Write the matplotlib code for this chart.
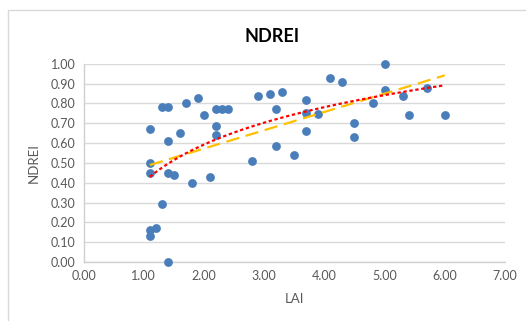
import matplotlib
matplotlib.use("Agg")
import matplotlib.pyplot as plt
from matplotlib.patches import Rectangle
import numpy as np

plt.rcParams["font.family"] = ["Lato", "DejaVu Sans"]

# LAI vs NDREI samples
lai = [1.1, 1.1, 1.1, 1.1, 1.1, 1.2, 1.3, 1.3, 1.4, 1.4, 1.4, 1.5, 1.4,
       1.6, 1.7, 1.8, 1.9, 2.0, 2.1, 2.2, 2.2, 2.2, 2.3, 2.4, 2.8, 2.9,
       3.1, 3.2, 3.2, 3.3, 3.5, 3.7, 3.7, 3.7, 3.9, 4.1, 4.3, 4.5, 4.5,
       4.8, 5.0, 5.0, 5.3, 5.4, 5.7, 6.0]
ndrei = [0.67, 0.50, 0.45, 0.16, 0.13, 0.17, 0.29, 0.78, 0.78, 0.61, 0.45, 0.44, 0.00,
         0.65, 0.80, 0.40, 0.83, 0.74, 0.43, 0.685, 0.64, 0.77, 0.77, 0.77, 0.51, 0.84,
         0.85, 0.77, 0.585, 0.86, 0.54, 0.82, 0.75, 0.66, 0.745, 0.93, 0.91, 0.70, 0.63,
         0.80, 1.00, 0.87, 0.84, 0.74, 0.88, 0.74]

x_ticks = [0, 1, 2, 3, 4, 5, 6, 7]
y_ticks = [0.0, 0.1, 0.2, 0.3, 0.4, 0.5, 0.6, 0.7, 0.8, 0.9, 1.0]

x = np.array(lai)
y = np.array(ndrei)

fig = plt.figure(figsize=(5.26, 3.21), dpi=100)
ax = fig.add_axes([0.159, 0.184, 0.801, 0.617])

# chart frame
fig.patches.append(Rectangle((8 / 526, -0.1), 1.2, 1 - 9.5 / 321 + 0.1,
                             transform=fig.transFigure, fill=False,
                             edgecolor="#d9d9d9", linewidth=1.0))

ax.scatter(x, y, s=40, color="#4a7ebb", zorder=3, linewidths=0, clip_on=False)

xs = np.linspace(x.min(), x.max(), 100)

# linear trend
lin = np.polyfit(x, y, 1)
ax.plot(xs, np.polyval(lin, xs), color="#ffc000", linewidth=1.6,
        dashes=(6, 3), zorder=4)

# logarithmic trend
logc = np.polyfit(np.log(x), y, 1)
ax.plot(xs, np.polyval(logc, np.log(xs)), color="#ff0000", linewidth=1.6,
        dashes=(1.5, 1.2), zorder=5)

ax.set_xlim(0, 7)
ax.set_ylim(0, 1.0)
ax.set_xticks(x_ticks)
ax.set_yticks(y_ticks)
ax.set_xticklabels([f"{v:.2f}" for v in x_ticks])
ax.set_yticklabels([f"{v:.2f}" for v in y_ticks])
ax.tick_params(length=0, labelsize=9, colors="#595959", pad=6)
ax.grid(axis="y", color="#d9d9d9", linewidth=1.0)
ax.set_axisbelow(True)
for side in ["top", "right"]:
    ax.spines[side].set_visible(False)
for side in ["left", "bottom"]:
    ax.spines[side].set_color("#d0d0d0")
    ax.spines[side].set_linewidth(1.0)

ax.set_xlabel("LAI", fontsize=9.5, color="#595959", labelpad=8)
ax.set_ylabel("NDREI", fontsize=9.5, color="#595959", labelpad=8)
fig.text(0.517, 0.885, "NDREI", ha="center", va="center",
         fontsize=13, fontweight="bold", color="#000000")

fig.savefig("out.png", dpi=100)
